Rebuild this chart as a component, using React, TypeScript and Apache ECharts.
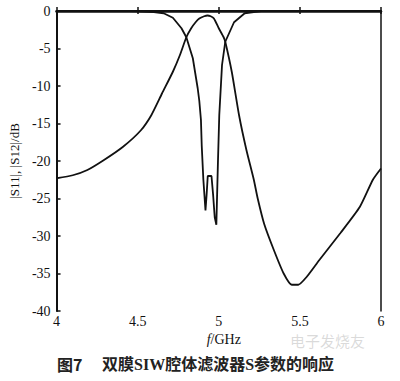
import React, { useEffect, useRef } from "react";
import * as echarts from "echarts";

// |S12| (transmission) — frequency (GHz) and magnitude (dB)
const s12Freq = [4.0, 4.1, 4.19, 4.29, 4.41, 4.52, 4.584, 4.65, 4.717, 4.76, 4.8, 4.83, 4.857, 4.88, 4.91, 4.93, 4.95, 4.97, 5.0, 5.03, 5.04, 5.08, 5.125, 5.17, 5.216, 5.24, 5.28, 5.34, 5.4, 5.45, 5.49, 5.54, 5.62, 5.75, 5.87, 5.95, 6.0];
const s12Db = [-22.3, -21.9, -21.2, -19.9, -18.1, -15.9, -13.9, -11.0, -8.1, -5.9, -3.5, -2.3, -1.5, -1.0, -0.7, -0.6, -0.7, -1.0, -2.3, -3.5, -4.1, -8.1, -13.9, -18.5, -22.5, -25.0, -28.4, -31.9, -35.0, -36.5, -36.5, -35.5, -33.2, -29.6, -26.1, -22.5, -21.0];

// |S11| (reflection)
const s11Freq = [4.0, 4.45, 4.5, 4.6, 4.66, 4.717, 4.77, 4.8, 4.84, 4.87, 4.88, 4.89, 4.895, 4.905, 4.918, 4.925, 4.932, 4.955, 4.965, 4.975, 4.985, 4.995, 5.003, 5.02, 5.04, 5.094, 5.16, 5.26, 6.0];
const s11Db = [0, 0, -0.05, -0.15, -0.3, -0.9, -2.3, -3.5, -6.3, -10.3, -12.0, -14.5, -18.0, -22.5, -26.6, -24.5, -22.0, -22.0, -24.5, -27.5, -28.5, -20.0, -13.9, -7.2, -4.1, -1.5, -0.3, 0, 0];

const xTicks = ["4", "4.5", "5", "5.5", "6"];
const yTicks = [0, -5, -10, -15, -20, -25, -30, -35, -40];

const serif = "'Times New Roman', 'Liberation Serif', 'DejaVu Serif', serif";

export default function App() {
  const ref = useRef<HTMLDivElement>(null);
  useEffect(() => {
    document.body.style.margin = "0";
    if (!ref.current) return;
    const chart = echarts.init(ref.current, null, { renderer: "svg" });
    const pairs = (xs: number[], ys: number[]) => xs.map((x, i) => [x, ys[i]]);
    chart.setOption({
      animation: false,
      backgroundColor: "#ffffff",
      grid: { left: 52, right: 19, top: 11, bottom: 70, containLabel: false },
      xAxis: [
        {
          type: "value",
          min: 4,
          max: 6,
          interval: 0.5,
          position: "bottom",
          axisLine: { show: true, lineStyle: { color: "#111", width: 2 } },
          axisTick: { show: true, inside: true, length: 4, lineStyle: { color: "#111", width: 1.5 } },
          axisLabel: {
            color: "#111",
            fontFamily: serif,
            fontSize: 14,
            margin: 3,
            formatter: (v: number) => {
              const idx = Math.round((v - 4) / 0.5);
              return xTicks[idx] ?? "";
            },
          },
          splitLine: { show: false },
          name: "{i|f}{n|/GHz}",
          nameLocation: "middle",
          nameGap: 20,
          nameTextStyle: {
            rich: {
              i: { fontFamily: serif, fontStyle: "italic", fontSize: 14, color: "#111", padding: [0, 0, 0, 10] },
              n: { fontFamily: serif, fontSize: 14, color: "#111" },
            },
          },
        },
        {
          type: "value",
          min: 4,
          max: 6,
          interval: 0.5,
          position: "top",
          axisLine: { show: true, lineStyle: { color: "#111", width: 2.5 } },
          axisTick: { show: true, inside: true, length: 3, lineStyle: { color: "#111", width: 1.5 } },
          axisLabel: { show: false },
          splitLine: { show: false },
        },
      ],
      yAxis: [
        {
          type: "value",
          min: -40,
          max: 0,
          interval: 5,
          position: "left",
          axisLine: { show: true, lineStyle: { color: "#111", width: 2 } },
          axisTick: { show: true, inside: true, length: 4, lineStyle: { color: "#111", width: 1.5 } },
          axisLabel: {
            color: "#111",
            fontFamily: serif,
            fontSize: 14,
            margin: 6,
            formatter: (v: number) => (yTicks.includes(v) ? String(v) : ""),
          },
          splitLine: { show: false },
          name: "|S11|, |S12|/dB",
          nameLocation: "middle",
          nameGap: 22,
          nameRotate: 90,
          nameTextStyle: { fontFamily: serif, fontSize: 13, color: "#111" },
        },
        {
          type: "value",
          min: -40,
          max: 0,
          interval: 5,
          position: "right",
          axisLine: { show: true, lineStyle: { color: "#111", width: 1.5 } },
          axisTick: { show: false },
          axisLabel: { show: false },
          splitLine: { show: false },
        },
      ],
      series: [
        {
          name: "|S12|",
          type: "line",
          xAxisIndex: 0,
          yAxisIndex: 0,
          data: pairs(s12Freq, s12Db),
          showSymbol: false,
          smooth: 0.2,
          lineStyle: { color: "#111", width: 1.8 },
        },
        {
          name: "|S11|",
          type: "line",
          xAxisIndex: 0,
          yAxisIndex: 0,
          data: pairs(s11Freq, s11Db),
          showSymbol: false,
          smooth: false,
          lineStyle: { color: "#111", width: 1.8 },
        },
      ],
      graphic: [
        {
          type: "text",
          left: 57,
          top: 356,
          style: { text: "图7", fontFamily: "'Noto Sans CJK SC', sans-serif", fontWeight: "bold", fontSize: 16, fill: "#222" },
        },
        {
          type: "text",
          left: 102,
          top: 356,
          style: { text: "双膜SIW腔体滤波器S参数的响应", fontFamily: "'Liberation Serif', 'Noto Sans CJK SC', serif", fontWeight: "bold", fontSize: 16, fill: "#222" },
        },
        {
          type: "text",
          left: 290,
          top: 333,
          style: { text: "电子发烧友", fontFamily: "'Noto Sans CJK SC', sans-serif", fontSize: 15, fill: "rgba(150,150,150,0.35)" },
        },
      ],
    });
    return () => chart.dispose();
  }, []);
  return <div ref={ref} style={{ position: "absolute", left: 0, top: 0, width: 400, height: 381 }} />;
}
